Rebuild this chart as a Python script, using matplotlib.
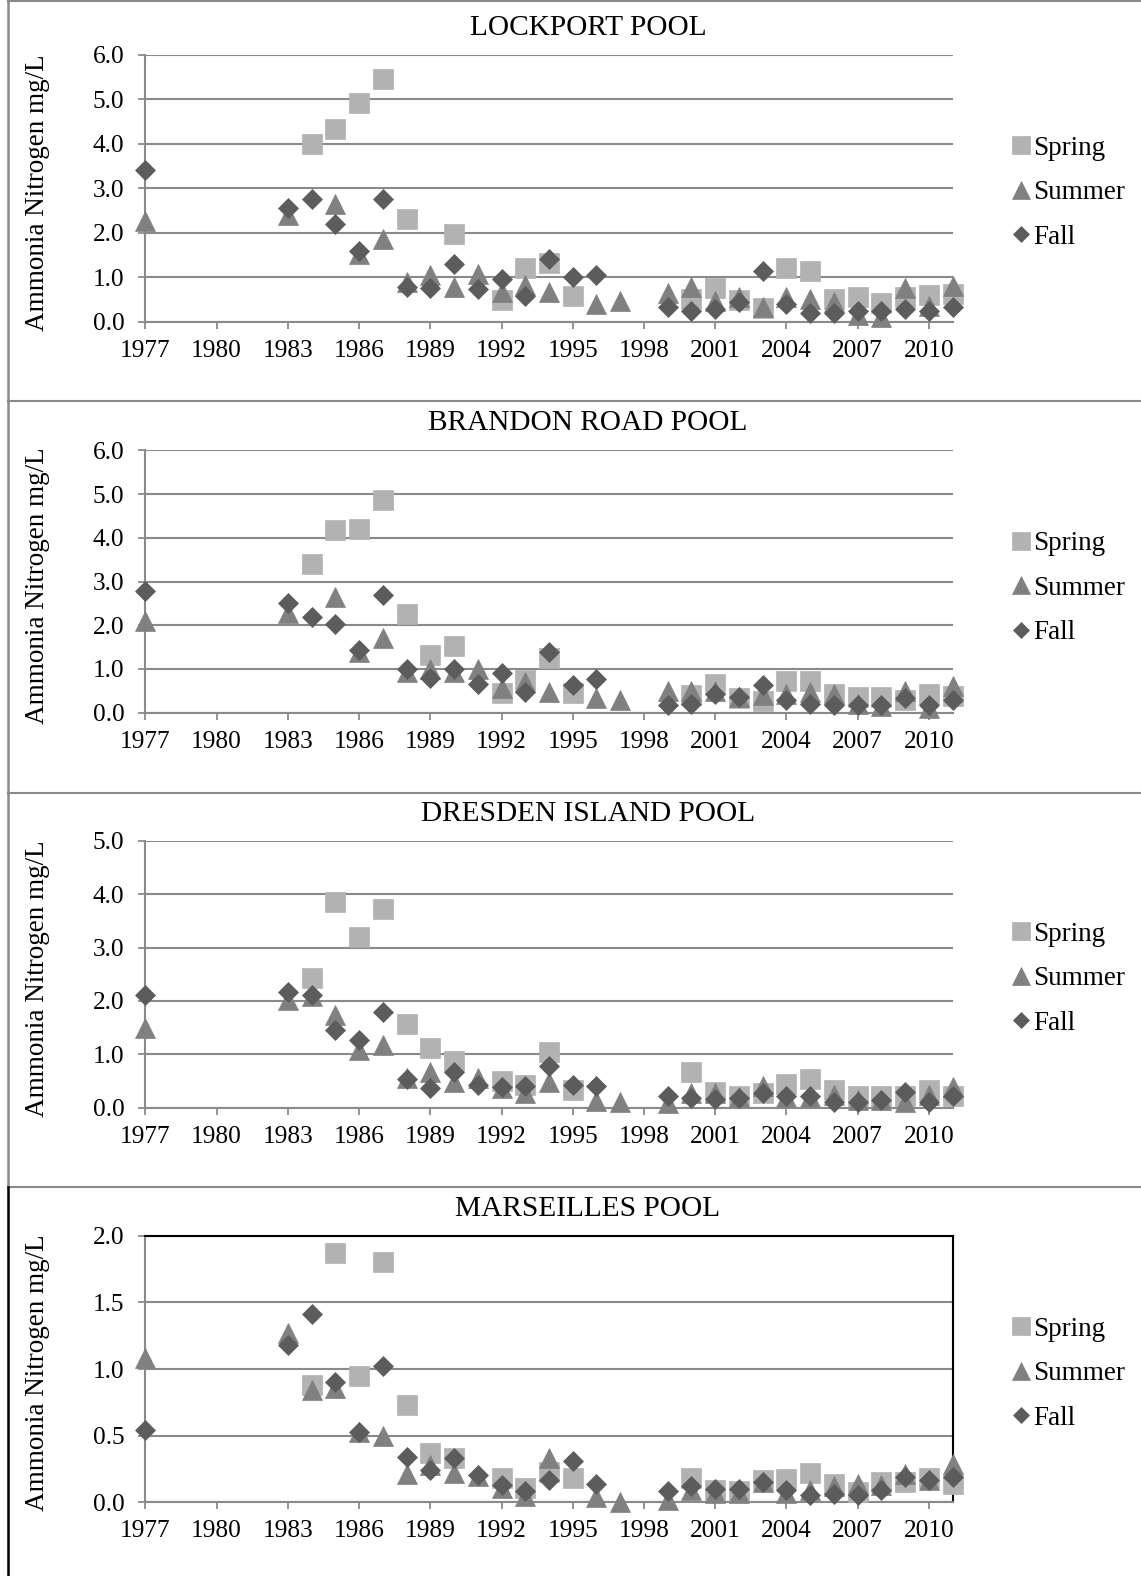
import numpy as np
import matplotlib
matplotlib.use("Agg")
import matplotlib.pyplot as plt
from matplotlib.lines import Line2D

plt.rcParams['font.family'] = ['Liberation Serif', 'DejaVu Serif']

nan = np.nan
years = [1977, 1983, 1984, 1985, 1986, 1987, 1988, 1989, 1990, 1991, 1992, 1993, 1994,
         1995, 1996, 1997, 1999, 2000, 2001, 2002, 2003, 2004, 2005, 2006, 2007, 2008,
         2009, 2010, 2011]

titles = ["LOCKPORT POOL", "BRANDON ROAD POOL", "DRESDEN ISLAND POOL", "MARSEILLES POOL"]

lockport_spring = [nan, nan, 4.0, 4.34, 4.91, 5.45, 2.30, nan, 1.98, nan, 0.48, 1.20, 1.33,
                   0.57, nan, nan, nan, 0.50, 0.75, 0.49, 0.30, 1.20, 1.14, 0.50, 0.55, 0.41,
                   0.56, 0.60, 0.62]
lockport_summer = [2.27, 2.40, nan, 2.65, 1.53, 1.85, 0.89, 1.04, 0.79, 1.07, 0.67, 0.82, 0.67,
                   nan, 0.40, 0.47, 0.64, 0.79, 0.47, 0.55, 0.34, 0.56, 0.52, 0.45, 0.15, 0.10,
                   0.75, 0.35, 0.81]
lockport_fall = [3.41, 2.55, 2.75, 2.19, 1.60, 2.75, 0.79, 0.75, 1.30, 0.73, 0.96, 0.58, 1.42,
                 1.00, 1.05, nan, 0.32, 0.24, 0.28, 0.45, 1.14, 0.39, 0.20, 0.20, 0.25, 0.25,
                 0.28, 0.25, 0.32]

brandon_spring = [nan, nan, 3.41, 4.17, 4.20, 4.86, 2.26, 1.31, 1.53, nan, 0.46, 0.75, 1.26,
                  0.46, nan, nan, nan, 0.40, 0.66, 0.33, 0.27, 0.73, 0.73, 0.43, 0.35, 0.35,
                  0.30, 0.43, 0.38]
brandon_summer = [2.09, 2.29, nan, 2.64, 1.39, 1.71, 0.93, 1.00, 0.93, 1.00, 0.56, 0.71, 0.48,
                  nan, 0.33, 0.29, 0.50, 0.50, 0.50, 0.35, 0.40, 0.43, 0.48, 0.43, 0.20, 0.15,
                  0.50, 0.10, 0.60]
brandon_fall = [2.79, 2.50, 2.19, 2.03, 1.43, 2.68, 1.00, 0.79, 1.00, 0.65, 0.91, 0.48, 1.39,
                0.64, 0.76, nan, 0.18, 0.21, 0.42, 0.37, 0.63, 0.29, 0.20, 0.17, 0.18, 0.17,
                0.34, 0.17, 0.29]

dresden_spring = [nan, nan, 2.42, 3.85, 3.19, 3.73, 1.57, 1.11, 0.88, nan, 0.50, 0.42, 1.04,
                  0.34, nan, nan, nan, 0.67, 0.30, 0.21, 0.28, 0.44, 0.54, 0.34, 0.22, 0.21,
                  0.22, 0.33, 0.21]
dresden_summer = [1.49, 2.02, 2.10, 1.73, 1.08, 1.17, 0.55, 0.67, 0.49, 0.55, 0.36, 0.28, 0.48,
                  nan, 0.12, 0.10, 0.08, 0.27, 0.27, 0.20, 0.41, 0.20, 0.20, 0.23, 0.15, 0.15,
                  0.10, 0.23, 0.39]
dresden_fall = [2.11, 2.17, 2.11, 1.45, 1.27, 1.80, 0.53, 0.36, 0.66, 0.42, 0.38, 0.41, 0.79,
                0.42, 0.41, nan, 0.21, 0.19, 0.17, 0.19, 0.27, 0.22, 0.21, 0.10, 0.10, 0.14,
                0.29, 0.11, 0.22]

marseilles_spring = [nan, nan, 0.88, 1.87, 0.95, 1.80, 0.73, 0.37, 0.33, nan, 0.185, 0.11, 0.23,
                     0.18, nan, nan, nan, 0.18, 0.09, 0.085, 0.17, 0.175, 0.22, 0.14, 0.08,
                     0.155, 0.155, 0.185, 0.14]
marseilles_summer = [1.08, 1.27, 0.845, 0.855, 0.53, 0.50, 0.21, 0.28, 0.22, 0.20, 0.11, 0.05,
                     0.33, nan, 0.04, 0.0, 0.02, 0.09, 0.07, 0.07, 0.15, 0.07, 0.09, 0.12, 0.14,
                     0.13, 0.215, 0.17, 0.29]
marseilles_fall = [0.54, 1.18, 1.41, 0.905, 0.53, 1.02, 0.34, 0.24, 0.33, 0.205, 0.13, 0.085,
                   0.17, 0.31, 0.14, nan, 0.085, 0.12, 0.10, 0.10, 0.155, 0.09, 0.055, 0.06,
                   0.055, 0.09, 0.19, 0.17, 0.19]

x_ticks = [1977, 1980, 1983, 1986, 1989, 1992, 1995, 1998, 2001, 2004, 2007, 2010]
y_maxes = [6.0, 6.0, 5.0, 2.0]
y_steps = [1.0, 1.0, 1.0, 0.5]

series = [
    (lockport_spring, lockport_summer, lockport_fall),
    (brandon_spring, brandon_summer, brandon_fall),
    (dresden_spring, dresden_summer, dresden_fall),
    (marseilles_spring, marseilles_summer, marseilles_fall),
]
season_names = ["Spring", "Summer", "Fall"]

W, H = 1141, 1576
fig = plt.figure(figsize=(W / 100, H / 100), dpi=100)

def fx(x):
    return x / W

def fy(y):
    return 1 - y / H

# axes pixel geometry (top, bottom)
ax_left, ax_right = 145.3, 952.7
ax_tb = [(54.7, 321.7), (450.3, 712.7), (840.7, 1107.7), (1235.7, 1502.3)]

grid_c = '#8a8a8a'
colors = ['#b2b2b2', '#808080', '#5c5c5c']
markers = ['s', '^', 'D']
msizes = [14.5, 14.5, 10.0]
tick_fs = 18.3
lab_fs = 19.5
title_fs = 21.2

# panel borders
sep = [1, 401, 793, 1187]
for y in sep:
    fig.add_artist(Line2D([fx(8), 1], [fy(y), fy(y)], color=grid_c, lw=1.5,
                          transform=fig.transFigure))
fig.add_artist(Line2D([fx(8), fx(8)], [fy(1), fy(1187)], color=grid_c, lw=1.8,
                      transform=fig.transFigure))
fig.add_artist(Line2D([fx(8), fx(8)], [fy(1187), 0], color='black', lw=1.8,
                      transform=fig.transFigure))

for i in range(4):
    top, bot = ax_tb[i]
    ax = fig.add_axes([fx(ax_left), fy(bot), fx(ax_right) - fx(ax_left), fy(top) - fy(bot)])
    for j in range(3):
        ax.plot(years, series[i][j], linestyle='none', marker=markers[j], ms=msizes[j],
                color=colors[j], markeredgecolor=colors[j], markeredgewidth=0.5,
                clip_on=False, zorder=3 + j, label=season_names[j])
    ax.set_xlim(1977, 2011)
    ax.set_ylim(0, y_maxes[i])
    ax.set_xticks(x_ticks)
    ax.set_xticklabels([str(t) for t in x_ticks])
    yt = np.arange(0, y_maxes[i] + 1e-9, y_steps[i])
    ax.set_yticks(yt)
    ax.set_yticklabels(["%.1f" % v for v in yt])
    ax.yaxis.grid(True, color=grid_c, lw=1.5, zorder=1)
    ax.set_axisbelow(True)
    for s in ['left', 'bottom']:
        ax.spines[s].set_color(grid_c)
        ax.spines[s].set_linewidth(1.5)
    if i == 3:
        for s in ['top', 'right']:
            ax.spines[s].set_color('black')
            ax.spines[s].set_linewidth(1.5)
    else:
        ax.spines['top'].set_visible(False)
        ax.spines['right'].set_visible(False)
    ax.tick_params(axis='both', direction='out', length=5, width=1.3, color=grid_c,
                   labelsize=tick_fs, labelcolor='black')
    ax.tick_params(axis='x', pad=8)
    ax.tick_params(axis='y', pad=10)
    fig.text(fx(38), fy((top + bot) / 2 + 4), "Ammonia Nitrogen mg/L", rotation=90,
             ha='center', va='center', fontsize=lab_fs)
    fig.text(fx(588), fy(top - 27), titles[i], ha='center', va='center', fontsize=title_fs)
    ax.legend(loc='center left', bbox_to_anchor=(fx(998), fy(top + 138)),
              bbox_transform=fig.transFigure, frameon=False, fontsize=lab_fs,
              handlelength=0.7, handletextpad=0.1, labelspacing=0.72,
              borderpad=0, markerscale=0.85)

fig.savefig("out.png", dpi=100)
